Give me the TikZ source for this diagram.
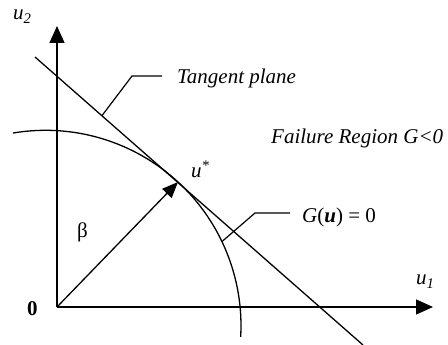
\documentclass[tikz,border=0pt]{standalone}
\usepackage{fontspec}
\setmainfont{Liberation Serif}
\usetikzlibrary{arrows.meta,calc}
\tikzset{
  axis/.style  ={-{Triangle[length=17pt,width=15pt]},line width=1.3pt},
  vec/.style   ={-{Triangle[length=16pt,width=13pt]},line width=1.3pt},
  curve/.style ={line width=1.3pt},
  leader/.style={line width=1.2pt},
  lbl/.style   ={inner sep=0pt,anchor=base west,font=\fontsize{21}{25}\selectfont\itshape},
  uplbl/.style ={inner sep=0pt,anchor=base west,font=\fontsize{21}{25}\selectfont}
}

\begin{document}
\begin{tikzpicture}[x=1pt,y=1pt]
  \useasboundingbox (0,0) rectangle (448,345);
  \coordinate (O) at (57,38);
  \coordinate (yend) at (57,319);
  \coordinate (xend) at (433,38);
  \coordinate (ctr) at (45.6,19.3);
  \coordinate (ustar) at (178,163);
  \coordinate (ta) at (35,288);
  \coordinate (tb) at (363,0);
  \draw[axis] (O) -- (yend);
  \draw[axis] (O) -- (xend);
  \draw[curve] (ta) -- (tb);
  \draw[curve] ([shift={(99.6:195.4)}]ctr) arc[start angle=99.6,end angle=-3.3,radius=195.4];
  \draw[vec] (O) -- (ustar);
  % leaders
  \coordinate (tfoot) at ($(ta)!0.204!(tb)$);
  \coordinate (tkink) at (132,269);
  \coordinate (tend) at (162,269);
  \coordinate (gfoot) at ([shift={(25.5:195.4)}]ctr);
  \coordinate (gkink) at (255,132);
  \coordinate (gend) at (290,132);
  \draw[leader] (tfoot) -- (tkink) -- (tend);
  \draw[leader] (gfoot) -- (gkink) -- (gend);
  % labels
  \node[lbl] (tplane) at (177,261) {Tangent plane};
  \node[lbl] (fail) at (271,201) {Failure Region G<0};
  \node[uplbl] (gzero) at (302,122) {\textit{G}(\textbf{\textit{u}}) = 0};
  \node[lbl] (utwo) at (13,325) {u\textsubscript{2}};
  \node[lbl] (uone) at (416,60) {u\textsubscript{1}};
  \node[lbl] (ulab) at (191,167) {u\textsuperscript{*}};
  \node[uplbl] (beta) at (77,107) {β};
  \node[uplbl,font=\fontsize{21}{25}\selectfont\bfseries] (zero) at (27,29) {0};
\end{tikzpicture}
\end{document}
